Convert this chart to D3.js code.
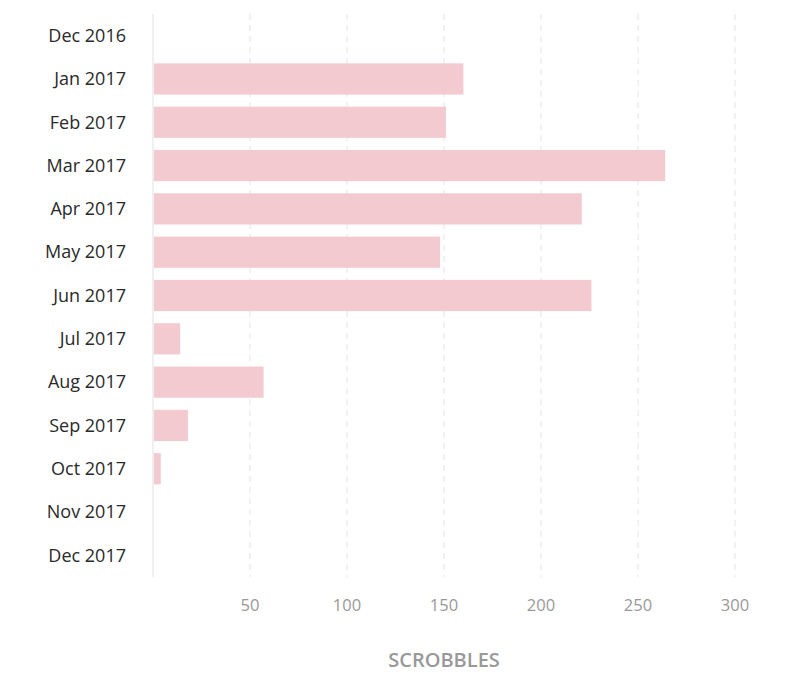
<!DOCTYPE html>
<html><head><meta charset="utf-8">
<script src="https://cdn.jsdelivr.net/npm/d3@7"></script>
<style>body{margin:0;background:#fff;font-family:"Open Sans",sans-serif;}</style>
</head><body><div id="chart"></div>
<script>
var months = ["Dec 2016","Jan 2017","Feb 2017","Mar 2017","Apr 2017","May 2017","Jun 2017","Jul 2017","Aug 2017","Sep 2017","Oct 2017","Nov 2017","Dec 2017"];
var scrobbles = [0,160,151,264,221,148,226,14,57,18,4,0,0];
var ticks = [50,100,150,200,250,300];

var svg = d3.select("#chart").append("svg").attr("width",800).attr("height",697);

var x = d3.scaleLinear().domain([0,300]).range([153,735]);
var y = d3.scaleBand().domain(months).range([14,577]).paddingInner(0.28).paddingOuter(0.14);

svg.selectAll("line.grid").data(ticks).enter().append("line")
  .attr("class","grid")
  .attr("x1",function(d){return x(d);}).attr("x2",function(d){return x(d);})
  .attr("y1",14).attr("y2",577)
  .attr("stroke","#e3e3e3").attr("stroke-dasharray","6,5");

svg.append("line").attr("x1",x(0)).attr("x2",x(0)).attr("y1",14).attr("y2",577)
  .attr("stroke","#e0e0e0");

svg.selectAll("rect.bar").data(months).enter().append("rect")
  .attr("class","bar")
  .attr("x",x(0)+1)
  .attr("y",function(d){return y(d);})
  .attr("height",y.bandwidth())
  .attr("width",function(d,i){return Math.max(0,x(scrobbles[i])-x(0)-1);})
  .attr("fill","#f2cacf");

svg.selectAll("text.month").data(months).enter().append("text")
  .attr("class","month")
  .attr("x",126).attr("y",function(d){return y(d)+y.bandwidth()/2;})
  .attr("dy","0.35em").attr("text-anchor","end")
  .attr("font-size",18).attr("font-weight",500).attr("fill","#2a2a2a")
  .text(function(d){return d;});

svg.selectAll("text.tick").data(ticks).enter().append("text")
  .attr("class","tick")
  .attr("x",function(d){return x(d);}).attr("y",611)
  .attr("text-anchor","middle").attr("font-size",16.5).attr("fill","#999")
  .text(function(d){return d;});

svg.append("text").attr("x",444).attr("y",667).attr("text-anchor","middle")
  .attr("font-size",20).attr("font-weight",600).attr("fill","#999").text("SCROBBLES");
</script></body></html>
